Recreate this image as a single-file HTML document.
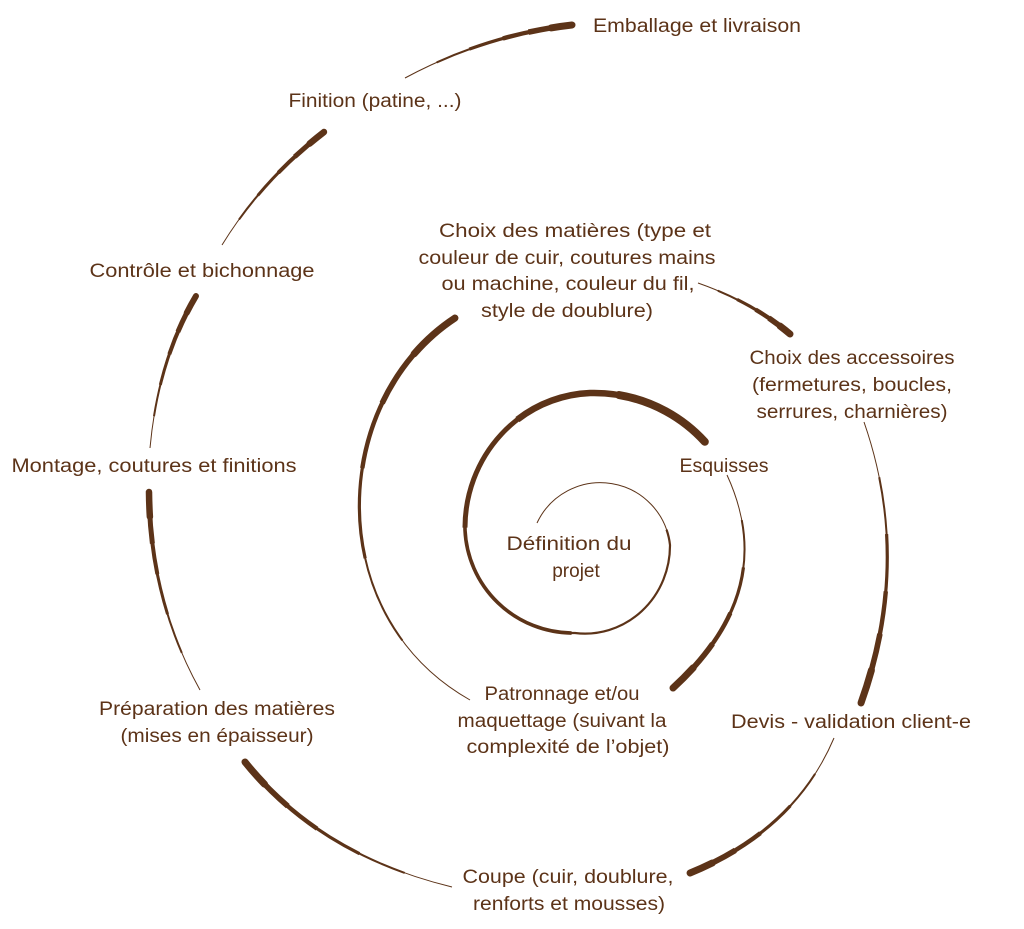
<!DOCTYPE html>
<html><head><meta charset="utf-8"><style>
html,body{margin:0;padding:0;background:#fff}
svg{display:block}
text{font-family:"Liberation Sans",sans-serif;font-size:19px;fill:#5c3318;text-anchor:middle}
</style></head><body>
<svg width="1024" height="929" viewBox="0 0 1024 929" xmlns="http://www.w3.org/2000/svg">
<defs>
<path id="p1" pathLength="100" d="M537,523 A70,70 0 0 1 670,545 A85,88 0 0 1 575,633 A108,108 0 0 1 465,530 A130,135 0 0 1 590,393 A150,150 0 0 1 705,442"/>
<path id="p2" pathLength="100" d="M727,475 Q780,590 673,688"/>
<path id="p3" pathLength="100" d="M470,700 C320,615 330,400 455,318"/>
<path id="p4" pathLength="100" d="M698,283 Q752,302 790,334"/>
<path id="p5" pathLength="100" d="M864,422 Q912,560 861,703"/>
<path id="p6" pathLength="100" d="M834,738 Q795,830 690,873"/>
<path id="p7" pathLength="100" d="M452,887 Q320,855 245,762"/>
<path id="p8" pathLength="100" d="M200,690 Q150,600 149,492"/>
<path id="p9" pathLength="100" d="M150,448 Q158,360 196,296"/>
<path id="p10" pathLength="100" d="M222,245 Q262,180 324,132"/>
<path id="p11" pathLength="100" d="M405,78 Q485,35 572,25"/>
</defs>
<g fill="none" stroke="#5c3318">
<g stroke-linecap="butt">
<use href="#p1" stroke-width="1"/>
<use href="#p1" stroke-width="2.2" stroke-dasharray="80 200" stroke-dashoffset="-20"/>
<use href="#p1" stroke-width="3.6" stroke-dasharray="60 200" stroke-dashoffset="-40"/>
<use href="#p1" stroke-width="5" stroke-dasharray="40 200" stroke-dashoffset="-60"/>
<use href="#p1" stroke-width="6.5" stroke-dasharray="25 200" stroke-dashoffset="-75"/>

<use href="#p2" stroke-width="1"/>
<use href="#p2" stroke-width="2" stroke-dasharray="80 200" stroke-dashoffset="-20"/>
<use href="#p2" stroke-width="3.2" stroke-dasharray="60 200" stroke-dashoffset="-40"/>
<use href="#p2" stroke-width="4.4" stroke-dasharray="40 200" stroke-dashoffset="-60"/>
<use href="#p2" stroke-width="5.6" stroke-dasharray="25 200" stroke-dashoffset="-75"/>

<use href="#p3" stroke-width="1"/>
<use href="#p3" stroke-width="2" stroke-dasharray="80 200" stroke-dashoffset="-20"/>
<use href="#p3" stroke-width="3.2" stroke-dasharray="60 200" stroke-dashoffset="-40"/>
<use href="#p3" stroke-width="4.4" stroke-dasharray="40 200" stroke-dashoffset="-60"/>
<use href="#p3" stroke-width="5.6" stroke-dasharray="25 200" stroke-dashoffset="-75"/>

<use href="#p4" stroke-width="1"/>
<use href="#p4" stroke-width="2" stroke-dasharray="80 200" stroke-dashoffset="-20"/>
<use href="#p4" stroke-width="3.2" stroke-dasharray="60 200" stroke-dashoffset="-40"/>
<use href="#p4" stroke-width="4.4" stroke-dasharray="40 200" stroke-dashoffset="-60"/>
<use href="#p4" stroke-width="5.6" stroke-dasharray="25 200" stroke-dashoffset="-75"/>

<use href="#p5" stroke-width="1"/>
<use href="#p5" stroke-width="2" stroke-dasharray="80 200" stroke-dashoffset="-20"/>
<use href="#p5" stroke-width="3.2" stroke-dasharray="60 200" stroke-dashoffset="-40"/>
<use href="#p5" stroke-width="4.4" stroke-dasharray="40 200" stroke-dashoffset="-60"/>
<use href="#p5" stroke-width="5.6" stroke-dasharray="25 200" stroke-dashoffset="-75"/>

<use href="#p6" stroke-width="1"/>
<use href="#p6" stroke-width="2" stroke-dasharray="80 200" stroke-dashoffset="-20"/>
<use href="#p6" stroke-width="3.2" stroke-dasharray="60 200" stroke-dashoffset="-40"/>
<use href="#p6" stroke-width="4.4" stroke-dasharray="40 200" stroke-dashoffset="-60"/>
<use href="#p6" stroke-width="5.6" stroke-dasharray="25 200" stroke-dashoffset="-75"/>

<use href="#p7" stroke-width="1"/>
<use href="#p7" stroke-width="2" stroke-dasharray="80 200" stroke-dashoffset="-20"/>
<use href="#p7" stroke-width="3.2" stroke-dasharray="60 200" stroke-dashoffset="-40"/>
<use href="#p7" stroke-width="4.4" stroke-dasharray="40 200" stroke-dashoffset="-60"/>
<use href="#p7" stroke-width="5.6" stroke-dasharray="25 200" stroke-dashoffset="-75"/>

<use href="#p8" stroke-width="1"/>
<use href="#p8" stroke-width="2" stroke-dasharray="80 200" stroke-dashoffset="-20"/>
<use href="#p8" stroke-width="3" stroke-dasharray="60 200" stroke-dashoffset="-40"/>
<use href="#p8" stroke-width="4" stroke-dasharray="40 200" stroke-dashoffset="-60"/>
<use href="#p8" stroke-width="5" stroke-dasharray="25 200" stroke-dashoffset="-75"/>

<use href="#p9" stroke-width="1"/>
<use href="#p9" stroke-width="2" stroke-dasharray="80 200" stroke-dashoffset="-20"/>
<use href="#p9" stroke-width="3" stroke-dasharray="60 200" stroke-dashoffset="-40"/>
<use href="#p9" stroke-width="4" stroke-dasharray="40 200" stroke-dashoffset="-60"/>
<use href="#p9" stroke-width="5" stroke-dasharray="25 200" stroke-dashoffset="-75"/>

<use href="#p10" stroke-width="1"/>
<use href="#p10" stroke-width="2" stroke-dasharray="80 200" stroke-dashoffset="-20"/>
<use href="#p10" stroke-width="3" stroke-dasharray="60 200" stroke-dashoffset="-40"/>
<use href="#p10" stroke-width="4" stroke-dasharray="40 200" stroke-dashoffset="-60"/>
<use href="#p10" stroke-width="5" stroke-dasharray="25 200" stroke-dashoffset="-75"/>

<use href="#p11" stroke-width="1"/>
<use href="#p11" stroke-width="2" stroke-dasharray="80 200" stroke-dashoffset="-20"/>
<use href="#p11" stroke-width="3.2" stroke-dasharray="60 200" stroke-dashoffset="-40"/>
<use href="#p11" stroke-width="4.4" stroke-dasharray="40 200" stroke-dashoffset="-60"/>
<use href="#p11" stroke-width="5.6" stroke-dasharray="25 200" stroke-dashoffset="-75"/>
</g>
<g stroke-linecap="round">
<use href="#p1" stroke-width="8" stroke-dasharray="12 200" stroke-dashoffset="-88"/>
<use href="#p2" stroke-width="7" stroke-dasharray="12 200" stroke-dashoffset="-88"/>
<use href="#p3" stroke-width="7" stroke-dasharray="12 200" stroke-dashoffset="-88"/>
<use href="#p4" stroke-width="7" stroke-dasharray="12 200" stroke-dashoffset="-88"/>
<use href="#p5" stroke-width="7" stroke-dasharray="12 200" stroke-dashoffset="-88"/>
<use href="#p6" stroke-width="7" stroke-dasharray="12 200" stroke-dashoffset="-88"/>
<use href="#p7" stroke-width="7" stroke-dasharray="12 200" stroke-dashoffset="-88"/>
<use href="#p8" stroke-width="6.5" stroke-dasharray="12 200" stroke-dashoffset="-88"/>
<use href="#p9" stroke-width="6" stroke-dasharray="12 200" stroke-dashoffset="-88"/>
<use href="#p10" stroke-width="6.5" stroke-dasharray="12 200" stroke-dashoffset="-88"/>
<use href="#p11" stroke-width="7" stroke-dasharray="12 200" stroke-dashoffset="-88"/>
</g>
</g>

<text x="697" y="32" textLength="208" lengthAdjust="spacingAndGlyphs">Emballage et livraison</text>
<text x="375" y="107" textLength="173" lengthAdjust="spacingAndGlyphs">Finition (patine, ...)</text>
<text x="202" y="277" textLength="225" lengthAdjust="spacingAndGlyphs">Contrôle et bichonnage</text>
<text x="154" y="472" textLength="285" lengthAdjust="spacingAndGlyphs">Montage, coutures et finitions</text>

<text x="575" y="237" textLength="272" lengthAdjust="spacingAndGlyphs">Choix des matières (type et</text>
<text x="567" y="264" textLength="297" lengthAdjust="spacingAndGlyphs">couleur de cuir, coutures mains</text>
<text x="568" y="290" textLength="253" lengthAdjust="spacingAndGlyphs">ou machine, couleur du fil,</text>
<text x="567" y="317" textLength="172" lengthAdjust="spacingAndGlyphs">style de doublure)</text>

<text x="852" y="364" textLength="205" lengthAdjust="spacingAndGlyphs">Choix des accessoires</text>
<text x="852" y="391" textLength="200" lengthAdjust="spacingAndGlyphs">(fermetures, boucles,</text>
<text x="852" y="418" textLength="191" lengthAdjust="spacingAndGlyphs">serrures, charnières)</text>

<text x="724" y="472" textLength="89" lengthAdjust="spacingAndGlyphs">Esquisses</text>
<text x="569" y="550" textLength="125" lengthAdjust="spacingAndGlyphs">Définition du</text>
<text x="576" y="577">projet</text>

<text x="562" y="700" textLength="155" lengthAdjust="spacingAndGlyphs">Patronnage et/ou</text>
<text x="562" y="727" textLength="209" lengthAdjust="spacingAndGlyphs">maquettage (suivant la</text>
<text x="568" y="753" textLength="203" lengthAdjust="spacingAndGlyphs">complexité de l’objet)</text>

<text x="851" y="728" textLength="240" lengthAdjust="spacingAndGlyphs">Devis - validation client-e</text>
<text x="217" y="715" textLength="236" lengthAdjust="spacingAndGlyphs">Préparation des matières</text>
<text x="217" y="742" textLength="193" lengthAdjust="spacingAndGlyphs">(mises en épaisseur)</text>

<text x="568" y="883" textLength="211" lengthAdjust="spacingAndGlyphs">Coupe (cuir, doublure,</text>
<text x="569" y="910" textLength="192" lengthAdjust="spacingAndGlyphs">renforts et mousses)</text>
</svg>
</body></html>
